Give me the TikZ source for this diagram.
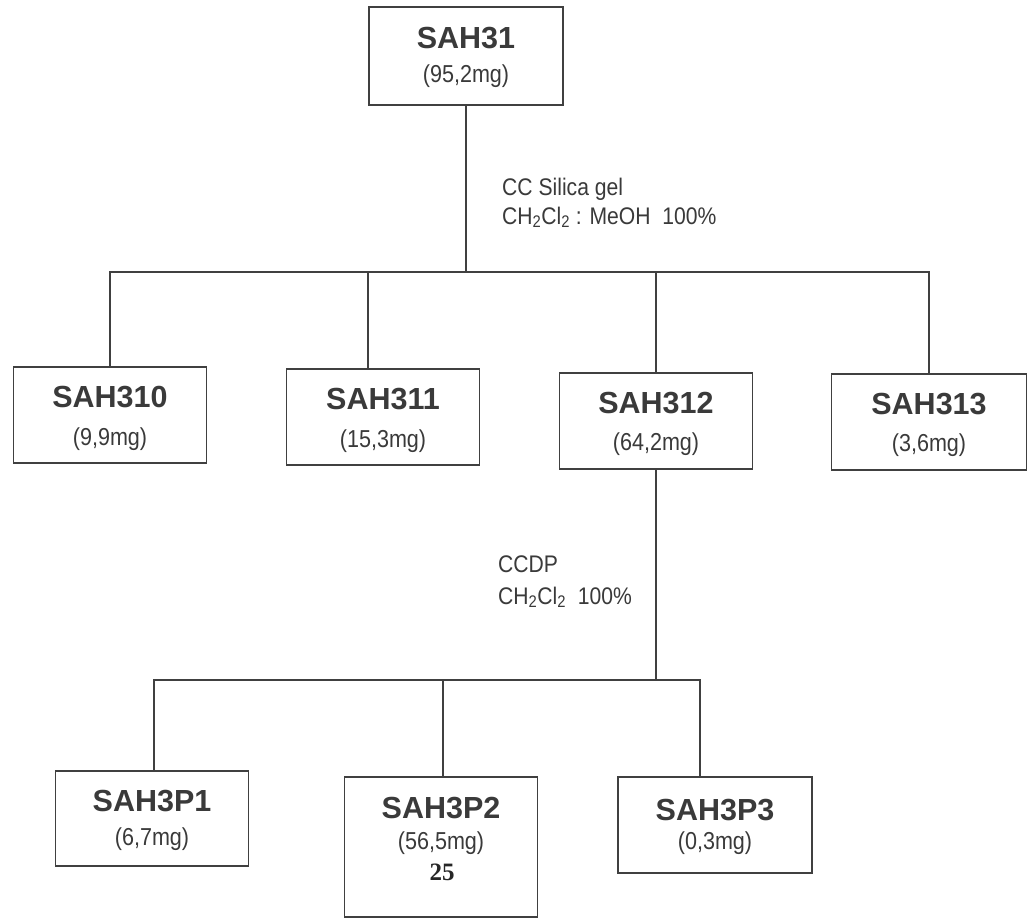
\documentclass[tikz,border=0pt]{standalone}
\usepackage{fontspec}
\setmainfont{Liberation Sans}
\newfontfamily\narrowfont[FakeStretch=0.88]{Liberation Sans}
\newfontfamily\serifnum{Liberation Serif}
\usetikzlibrary{calc}
\definecolor{ink}{HTML}{3A3A3A}
\definecolor{linec}{HTML}{404040}
\tikzset{
  box/.style={draw=linec, line width=1.3pt, rectangle, inner sep=0pt, outer sep=0pt},
  nametext/.style={text=ink, font=\bfseries\fontsize{30.5}{36}\selectfont, inner sep=0pt},
  masstext/.style={text=ink, font=\narrowfont\fontsize{24.5}{29}\selectfont, inner sep=0pt},
  labeltext/.style={text=ink, font=\narrowfont\fontsize{24}{29}\selectfont, inner sep=0pt, anchor=base west},
  conn/.style={draw=linec, line width=1.3pt},
}
\begin{document}
\begin{tikzpicture}[x=1pt,y=-1pt]
\useasboundingbox[fill=white] (0,0) rectangle (1034,918);

% boxes
\node[box, minimum width=194pt, minimum height=98pt] (n31) at (466,56) {};
\node[box, minimum width=193pt, minimum height=96pt] (n310) at (110,415) {};
\node[box, minimum width=193pt, minimum height=96pt] (n311) at (383,417) {};
\node[box, minimum width=193pt, minimum height=96pt] (n312) at (656,421) {};
\node[box, minimum width=195pt, minimum height=96pt] (n313) at (929,422) {};
\node[box, minimum width=193pt, minimum height=95pt] (p1) at (152,818.5) {};
\node[box, minimum width=193pt, minimum height=140pt] (p2) at (441,847) {};
\node[box, minimum width=194pt, minimum height=96pt] (p3) at (715,825) {};

% texts in boxes
\node[nametext] (t31) at ($(n31.north)+(0,31)$) {SAH31};
\node[masstext] (m31) at ($(n31.north)+(0,69)$) {(95,2mg)};
\node[nametext] (t310) at ($(n310.north)+(0,30)$) {SAH310};
\node[masstext] (m310) at ($(n310.north)+(0,72)$) {(9,9mg)};
\node[nametext] (t311) at ($(n311.north)+(0,30)$) {SAH311};
\node[masstext] (m311) at ($(n311.north)+(0,72)$) {(15,3mg)};
\node[nametext] (t312) at ($(n312.north)+(0,30)$) {SAH312};
\node[masstext] (m312) at ($(n312.north)+(0,71)$) {(64,2mg)};
\node[nametext] (t313) at ($(n313.north)+(0,30)$) {SAH313};
\node[masstext] (m313) at ($(n313.north)+(0,71)$) {(3,6mg)};
\node[nametext] (tp1) at ($(p1.north)+(0,30)$) {SAH3P1};
\node[masstext] (mp1) at ($(p1.north)+(0,68)$) {(6,7mg)};
\node[nametext] (tp2) at ($(p2.north)+(0,31)$) {SAH3P2};
\node[masstext] (mp2) at ($(p2.north)+(0,66)$) {(56,5mg)};
\node[text=black!85, font=\serifnum\bfseries\fontsize{25}{30}\selectfont, inner sep=0pt] (np2) at ($(p2.north)+(1,95)$) {25};
\node[nametext] (tp3) at ($(p3.north)+(0,33)$) {SAH3P3};
\node[masstext] (mp3) at ($(p3.north)+(0,66)$) {(0,3mg)};

% operation labels
\node[labeltext] (l1a) at (502,195) {CC Silica gel};
\node[labeltext] (l1b) at (502,224) {CH\textsubscript{2}Cl\textsubscript{2} : MeOH\ \ 100\%};
\node[labeltext] (l2a) at (498,572) {CCDP};
\node[labeltext] (l2b) at (498,604) {CH\textsubscript{2}Cl\textsubscript{2}\ \ 100\%};

% bus coordinates
\coordinate (bus1) at (110,272);
\coordinate (bus2) at (154,680);

% first split
\draw[conn] (n31.south) -- (n31.south |- bus1);
\draw[conn] (n310.north) -- (n310.north |- bus1) -- (n313.north |- bus1) -- (n313.north);
\draw[conn] ([xshift=-15pt]n311.north) -- ([xshift=-15pt]n311.north |- bus1);
\draw[conn] (n312.north) -- (n312.north |- bus1);

% second split
\draw[conn] (n312.south) -- (n312.south |- bus2);
\draw[conn] ([xshift=2pt]p1.north) -- ([xshift=2pt]p1.north |- bus2) -- ([xshift=-15pt]p3.north |- bus2) -- ([xshift=-15pt]p3.north);
\draw[conn] ([xshift=2pt]p2.north) -- ([xshift=2pt]p2.north |- bus2);
\end{tikzpicture}
\end{document}
